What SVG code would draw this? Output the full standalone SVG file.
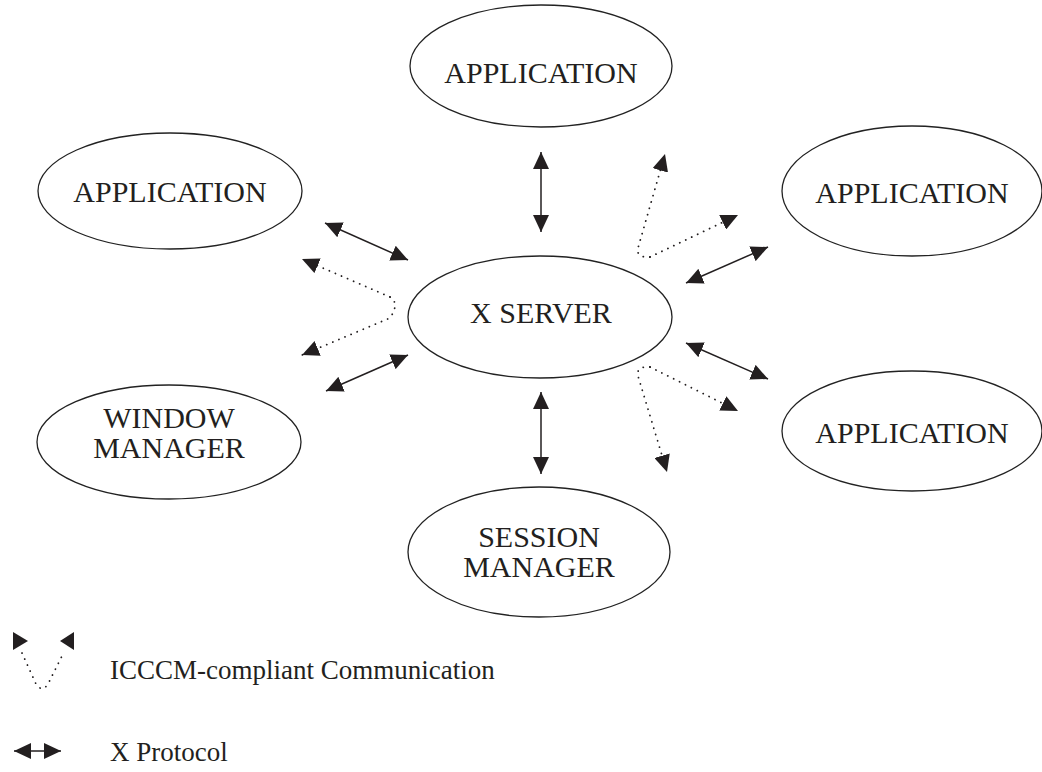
<svg xmlns="http://www.w3.org/2000/svg" width="1042" height="772" viewBox="0 0 1042 772">
<defs>
<style>
.node ellipse{fill:#fff;stroke:#222;stroke-width:1.3}
.node text,.legend text{font-family:"Liberation Serif","Times New Roman",serif;font-size:30px;fill:#231f20;text-anchor:middle}
.legend text{text-anchor:start;font-size:27px}
.proto{fill:none;stroke:#231f20;stroke-width:1.5;marker-start:url(#ah);marker-end:url(#ah)}
.icccm{fill:none;stroke:#231f20;stroke-width:1.8;stroke-dasharray:0.1 6.5;stroke-linecap:round}
.icccm.arr{marker-end:url(#ah)}
.head{fill:#231f20}
</style>
<marker id="ah" markerUnits="userSpaceOnUse" markerWidth="18" markerHeight="16" refX="17" refY="8" orient="auto-start-reverse" viewBox="0 0 18 16">
<path d="M0,0 L17,8 L0,16 z" fill="#231f20"/>
</marker>
</defs>
<rect width="1042" height="772" fill="#fff"/>
<g id="connectors">
<line class="proto" x1="541" y1="152" x2="541" y2="232"/>
<line class="proto" x1="541" y1="392" x2="541" y2="474"/>
<line class="proto" x1="325" y1="223" x2="408" y2="260"/>
<line class="proto" x1="326" y1="391" x2="408" y2="355"/>
<line class="proto" x1="686" y1="283" x2="768" y2="247"/>
<line class="proto" x1="686" y1="343" x2="768" y2="379"/>
<path class="icccm arr" d="M390,297 Q400,303 390,318 L302,355"/>
<path class="icccm arr" d="M390,297 L302,259"/>
<path class="icccm arr" d="M650,257 Q636,258 638,248 L665,154"/>
<path class="icccm arr" d="M650,257 L738,215"/>
<path class="icccm arr" d="M650,367 Q636,366 638,376 L667,472"/>
<path class="icccm arr" d="M650,367 L738,411"/>
</g>
<g id="app-top" class="node"><ellipse cx="541" cy="66" rx="131" ry="61"/><text x="541" y="83">APPLICATION</text></g>
<g id="app-left" class="node"><ellipse cx="170" cy="191" rx="132" ry="58"/><text x="170" y="202">APPLICATION</text></g>
<g id="app-right-top" class="node"><ellipse cx="912" cy="191" rx="130" ry="65"/><text x="912" y="203">APPLICATION</text></g>
<g id="x-server" class="node"><ellipse cx="540" cy="317" rx="132" ry="61"/><text x="541" y="323">X SERVER</text></g>
<g id="window-manager" class="node"><ellipse cx="169" cy="442" rx="132" ry="57"/><text x="169" y="428">WINDOW</text><text x="169" y="458">MANAGER</text></g>
<g id="app-right-bottom" class="node"><ellipse cx="912" cy="431" rx="130" ry="60"/><text x="912" y="443">APPLICATION</text></g>
<g id="session-manager" class="node"><ellipse cx="539" cy="552" rx="131" ry="65"/><text x="539" y="547">SESSION</text><text x="539" y="577">MANAGER</text></g>
<g id="legend" class="legend">
<path class="icccm" d="M22,653 L36,684 Q42,693 48,684 L64,652"/>
<polygon class="head" points="13,632 28,641 13,650"/>
<polygon class="head" points="74,632 60,641 74,650"/>
<line class="proto" x1="14" y1="751" x2="61" y2="751"/>
<text x="110" y="679">ICCCM-compliant Communication</text>
<text x="110" y="761">X Protocol</text>
</g>
</svg>
